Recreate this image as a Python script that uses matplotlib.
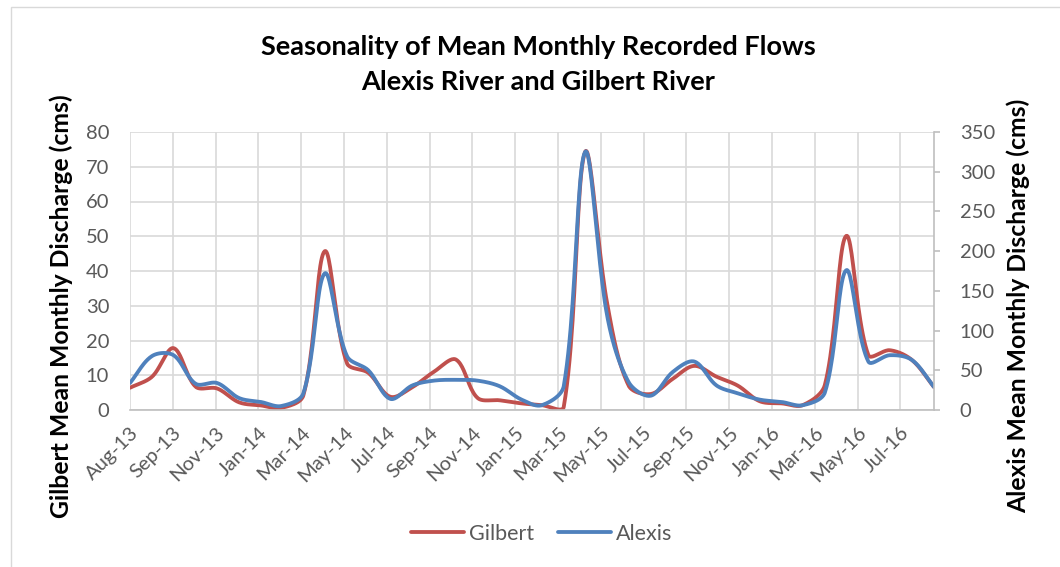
import numpy as np
import pandas as pd
import matplotlib
matplotlib.use("Agg")
import matplotlib.pyplot as plt
from matplotlib.patches import Rectangle

# monthly means, Aug-2013 .. Sep-2016 (first of month)
months = pd.date_range("2013-08-01", "2016-09-01", freq="MS")
gilbert = [6.4, 9.6, 17.8, 6.7, 6.2, 2.2, 1.3, 0.6, 4.2, 45.7, 13.5, 10.7,
           3.8, 6.6, 11.0, 14.5, 3.5, 2.8, 1.9, 1.4, 0.9, 74.3, 30.5, 7.0,
           4.6, 9.0, 12.7, 9.6, 7.0, 2.5, 1.9, 1.4, 7.2, 50.1, 15.8, 17.2,
           14.4, 6.6]
alexis = [34, 68, 69, 33, 34, 15, 10, 5, 21, 172, 68, 50,
          14, 31, 37, 38, 37, 30, 13, 6, 30, 325, 118, 35,
          18, 48, 61, 31, 21, 13, 10, 6, 22, 176, 61, 69,
          63, 29]
series_names = ["Gilbert", "Alexis"]

RED = "#C0504D"
BLUE = "#4F81BD"
GRID = "#D9D9D9"
AXIS = "#BFBFBF"
TXT = "#595959"
plt.rcParams["font.family"] = ["Lato", "DejaVu Sans"]

W, H = 1060, 567
L, R, T, B = 130, 934, 132, 410


def excel_smooth(x, y, sx, sy, n=24):
    """Bezier smoothing done in screen space, roughly like Excel's smoothed line."""
    P = np.column_stack([np.asarray(x, float) * sx, np.asarray(y, float) * sy])
    k = len(P)
    t = np.linspace(0, 1, n)[1:, None]
    out = [P[:1]]
    for i in range(k - 1):
        p0 = P[i - 1] if i > 0 else P[i]
        p1, p2 = P[i], P[i + 1]
        p3 = P[i + 2] if i + 2 < k else P[i + 1]
        d01 = np.hypot(*(p1 - p0))
        d12 = np.hypot(*(p2 - p1))
        d23 = np.hypot(*(p3 - p2))
        c1 = p1 + (p2 - p0) * (d12 / (d01 + d12)) / 3
        c2 = p2 - (p3 - p1) * (d12 / (d12 + d23)) / 3
        seg = (1 - t) ** 3 * p1 + 3 * (1 - t) ** 2 * t * c1 + 3 * (1 - t) * t ** 2 * c2 + t ** 3 * p2
        out.append(seg)
    out = np.vstack(out)
    return out[:, 0] / sx, out[:, 1] / sy


days = (months - months[0]).days.values
xmax = days[-1]

fig = plt.figure(figsize=(W / 100, H / 100), dpi=100)
fig.patches.append(Rectangle((11 / W, -0.1), 1.2, 1.1 - 7 / H, transform=fig.transFigure,
                             fill=False, edgecolor=GRID, lw=1))
ax = fig.add_axes([L / W, 1 - B / H, (R - L) / W, (B - T) / H])
ax2 = ax.twinx()

ax.set_xlim(0, xmax)
ax.set_ylim(0, 80)
ax2.set_ylim(0, 350)

gx, gy = excel_smooth(days, gilbert, (R - L) / xmax, (B - T) / 80)
ax_line, = ax.plot(gx, gy, color=RED, lw=2.75, solid_capstyle="round", label=series_names[0])
ax2.set_zorder(ax.get_zorder() + 1)
ax2.patch.set_visible(False)
bx, by = excel_smooth(days, alexis, (R - L) / xmax, (B - T) / 350)
ax2_line, = ax2.plot(bx, by, color=BLUE, lw=2.75, solid_capstyle="round", label=series_names[1])

# x ticks every 60 days, like the source chart's date axis
xt = np.arange(0, xmax, 60)
ax.set_xticks(xt)
ax.set_xticklabels([(months[0] + pd.Timedelta(days=int(d))).strftime("%b-%y") for d in xt],
                   rotation=45, ha="right", va="top", rotation_mode="anchor")
ax.set_yticks(np.arange(0, 81, 10))
ax2.set_yticks(np.arange(0, 351, 50))

ax.grid(True, color=GRID, lw=1.2)
ax.set_axisbelow(True)
for s in ["top", "left", "right"]:
    ax.spines[s].set_visible(False)
ax.spines["bottom"].set_color(AXIS)
ax.spines["bottom"].set_linewidth(1.2)
for s in ["top", "left", "bottom"]:
    ax2.spines[s].set_visible(False)
ax2.spines["right"].set_color(AXIS)
ax2.spines["right"].set_linewidth(1.2)

ax.tick_params(axis="y", length=0, pad=15, labelsize=14.5, labelcolor=TXT)
ax.tick_params(axis="x", length=0, pad=10, labelsize=14.5, labelcolor=TXT)
ax2.tick_params(axis="y", length=4.5, width=1.2, color=AXIS, pad=14, labelsize=14.5, labelcolor=TXT)

fig.text(61 / W, 1 - 306 / H, "Gilbert Mean Monthly Discharge (cms)", rotation=90,
         ha="center", va="center", fontsize=17.8, fontweight="bold")
fig.text(1018 / W, 1 - 306 / H, "Alexis Mean Monthly Discharge (cms)", rotation=90,
         ha="center", va="center", fontsize=17.8, fontweight="bold")
fig.text(538 / W, 1 - 47 / H, "Seasonality of Mean Monthly Recorded Flows",
         ha="center", va="center", fontsize=19.5, fontweight="bold")
fig.text(538 / W, 1 - 82 / H, "Alexis River and Gilbert River",
         ha="center", va="center", fontsize=19.5, fontweight="bold")

leg = fig.legend([ax_line, ax2_line], series_names, loc="center", ncol=2,
                 bbox_to_anchor=(542 / W, 1 - 534 / H), frameon=False, fontsize=15.5,
                 handlelength=2.45, columnspacing=1.1, handletextpad=0.25)
for txt in leg.get_texts():
    txt.set_color(TXT)

fig.savefig("out.png", dpi=100)
